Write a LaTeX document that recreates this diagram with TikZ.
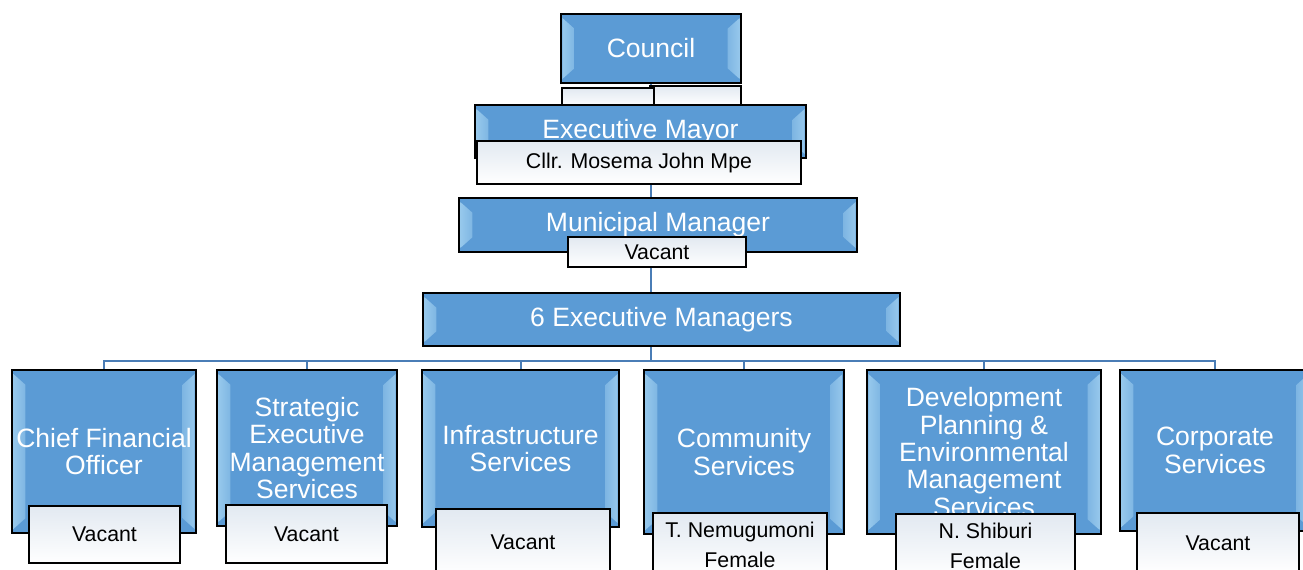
\documentclass[tikz,border=0pt]{standalone}
\usepackage{fontspec}
\setmainfont{Liberation Sans}
\usetikzlibrary{positioning,calc,backgrounds}
\definecolor{boxblue}{RGB}{91,155,213}
\definecolor{bevlo}{RGB}{150,200,236}
\definecolor{bevhi}{RGB}{228,244,253}
\definecolor{lnblue}{RGB}{74,125,182}
\definecolor{lbltop}{RGB}{226,233,241}

\begin{document}
\begin{tikzpicture}[x=0.75pt, y=-0.75pt,
  box/.style={draw, line width=1.5pt, fill=boxblue, text=white, inner sep=0pt,
              align=center, font=\fontsize{19.9}{20.5}\selectfont,
              path picture={
                \coordinate (pa) at (path picture bounding box.south west);
                \coordinate (pb) at (path picture bounding box.north east);
                \fill[left color=bevlo, middle color=bevhi, right color=bevlo!60!boxblue]
                  ($(pa)+(1pt,3pt)$) -- ($(pa)+(10pt,11pt)$) -- ($(pa|-pb)+(10pt,-11pt)$)
                  -- ($(pa|-pb)+(1pt,-3pt)$) -- cycle;
                \fill[right color=bevlo, middle color=bevhi, left color=bevlo!60!boxblue]
                  ($(pb|-pa)+(-1pt,3pt)$) -- ($(pb|-pa)+(-10pt,11pt)$) -- ($(pb)+(-10pt,-11pt)$)
                  -- ($(pb)+(-1pt,-3pt)$) -- cycle;
              }},
  sz/.style 2 args={minimum width=#1*0.75pt, minimum height=#2*0.75pt},
  lbl/.style={draw, line width=1.1pt, top color=lbltop, bottom color=white, inner sep=0pt,
              align=center, font=\fontsize{16}{22.5}\selectfont},
  ln/.style={draw=lnblue, line width=1.5pt}
]
\useasboundingbox (0,0) rectangle (1303,570);
\clip (0,0) rectangle (1303,570);

% top of the chart
\node[box, sz={180}{69}] (council) at (651,48.5) {Council};
\node[lbl, sz={91}{19}] (blankb) at (695.5,95.5) {};
\node[lbl, sz={92}{20}] (blanka) at (608,98) {};
\node[box, sz={331}{53}] (mayor) at (640.5,131.5) {Executive Mayor};
\node[lbl, sz={324}{43}] (mayorname) at (639,162.5) {Cllr. Mosema John Mpe};
\node[box, sz={398}{54}] (mm) at (658,225) {Municipal Manager};
\node[lbl, sz={178}{30}] (mmname) at (657,252) {Vacant};
\node[box, sz={477}{53}] (exec) at (661.5,319.5) {6 Executive Managers};

% departments
\node[box, sz={184}{163}] (cfo) at (104,451.5) {Chief Financial\\Officer};
\node[lbl, sz={151}{57}] (cfoname) at (104.5,534.5) {Vacant};
\node[box, sz={180}{156}] (sems) at (307,448) {Strategic\\Executive\\Management\\Services};
\node[lbl, sz={161}{58}] (semsname) at (306.5,534) {Vacant};
\node[box, sz={197}{157}] (infra) at (520.5,448.5) {Infrastructure\\Services};
\node[lbl, sz={174}{66}] (infraname) at (523,542) {Vacant};
\node[box, sz={200}{164}] (comm) at (744,452) {Community\\Services};
\node[lbl, sz={174}{64}] (commname) at (740,545) {T. Nemugumoni\\Female};
\node[box, sz={234}{164}] (dev) at (984,452) {Development\\Planning \&\\Environmental\\Management\\Services};
\node[lbl, sz={179}{64}] (devname) at (985.5,546) {N. Shiburi\\Female};
\node[box, sz={190}{161}] (corp) at (1215,450.5) {Corporate\\Services};
\node[lbl, sz={162}{60}] (corpname) at (1218,543) {Vacant};

\coordinate (bus) at (651,361);
\begin{scope}[on background layer]
\draw[ln] (council) -- (bus);
\foreach \d in {cfo,sems,infra,comm,dev,corp}
  \draw[ln] (bus) -| (\d.north);
\end{scope}
\end{tikzpicture}
\end{document}
